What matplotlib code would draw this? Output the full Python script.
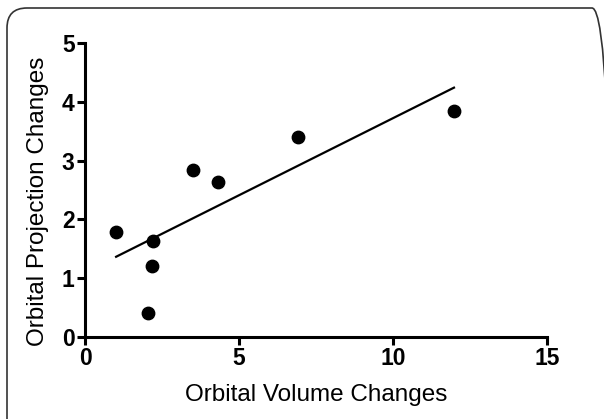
import numpy as np
import matplotlib
matplotlib.use("Agg")
import matplotlib.pyplot as plt
from matplotlib.patches import FancyBboxPatch
from matplotlib.transforms import IdentityTransform

volume = [1.01, 2.05, 2.18, 2.21, 3.51, 4.32, 6.92, 11.98]
projection = [1.79, 0.41, 1.21, 1.63, 2.84, 2.64, 3.40, 3.84]
xticks = [0, 5, 10, 15]
yticks = [0, 1, 2, 3, 4, 5]

plt.rcParams['font.family'] = ['Liberation Sans', 'DejaVu Sans']

fig = plt.figure(figsize=(6.04, 4.19), dpi=100)
ax = fig.add_axes([85/604, (419-337)/419, 462/604, 294/419])

ax.scatter(volume, projection, s=80, color='black', zorder=3, clip_on=False)
slope, intercept = np.polyfit(volume, projection, 1)
xs = np.array([min(volume), max(volume)])
ax.plot(xs, slope*xs + intercept, color='black', lw=1.6)

ax.set_xlim(0, 15)
ax.set_ylim(0, 5)
ax.set_xticks(xticks)
ax.set_yticks(yticks)
for s in ['top', 'right']:
    ax.spines[s].set_visible(False)
for s in ['left', 'bottom']:
    ax.spines[s].set_linewidth(2.2)
ax.tick_params(direction='out', length=6, width=2.2, labelsize=16.5, pad=1.5)
for lab in ax.get_xticklabels() + ax.get_yticklabels():
    lab.set_fontweight('bold')
ax.set_xlabel('Orbital Volume Changes', fontsize=17.5, labelpad=10)
ax.set_ylabel('Orbital Projection Changes', fontsize=17.5, labelpad=9)
ax.yaxis.label.set_y(0.463)

box = FancyBboxPatch((7, -30), 605, 441, boxstyle="round,pad=0,rounding_size=20",
                     transform=IdentityTransform(), facecolor='none',
                     edgecolor='#333333', lw=1.2)
fig.patches.append(box)

fig.savefig('out.png', dpi=100)
